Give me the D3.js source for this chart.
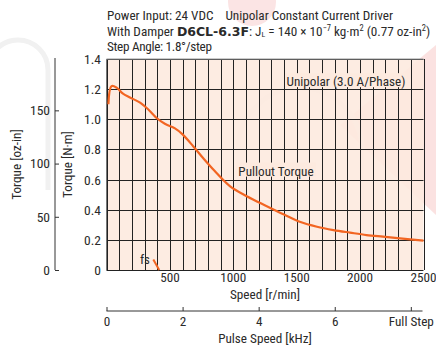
<!DOCTYPE html>
<html><head><meta charset="utf-8">
<script src="https://cdn.jsdelivr.net/npm/d3@7"></script>
<style>
body{margin:0;background:#fff;}
svg text{font-family:"Liberation Sans Narrow","Roboto Condensed","Liberation Sans",Arial,sans-serif;fill:#2a2a2a;}
</style></head><body>
<svg id="c" width="436" height="345"></svg>
<script>
// ---- data ----
const speedRpm = [15, 40, 80, 130, 185, 265, 330, 400, 460, 540, 600, 685, 765, 850, 975, 1110, 1260, 1400, 1530, 1660, 1790, 1920, 2050, 2180, 2315, 2500];
const pulloutTorque = [1.10, 1.22, 1.21, 1.17, 1.145, 1.11, 1.065, 1.005, 0.97, 0.94, 0.90, 0.82, 0.74, 0.66, 0.555, 0.488, 0.425, 0.368, 0.318, 0.287, 0.265, 0.248, 0.232, 0.221, 0.21, 0.195];
const fsSpeed = [369, 416];
const fsTorque = [0.07, 0.0];
const speedTicks = [500, 1000, 1500, 2000, 2500];
const torqueTicks = [0, 0.2, 0.4, 0.6, 0.8, 1.0, 1.2, 1.4];
const ozTicks = [0, 50, 100, 150];
const pulseTicks = [0, 2, 4, 6, 8];
const pulseLabels = ["0", "2", "4", "6", "Full Step"];
const titleLine1 = "Power Input: 24 VDC    Unipolar Constant Current Driver";
const titleLine3 = "Step Angle: 1.8°/step";

const FS = 13.2;
const svg = d3.select("#c");
const x = d3.scaleLinear().domain([0, 2500]).range([106.5, 423.5]);
const y = d3.scaleLinear().domain([0, 1.4]).range([270, 59]);
const oz = d3.scaleLinear().domain([0, 1.4 * 141.612]).range([270, 59]);
const kHz = d3.scaleLinear().domain([0, 2500 * 200 / 60 / 1000]).range([106.5, 423.5]);

// watermark
const wm = svg.append("g");
wm.append("circle").attr("cx", 252).attr("cy", 2).attr("r", 24).attr("fill", "#fbe4e4");
wm.append("path").attr("d", "M340,125 L436,45 L436,215 Z").attr("fill", "#fbe2e1");
const arcs = [[18, 70, 30], [300, 150, 62]];
arcs.forEach(([cx, cy, r]) => {
  wm.append("path").attr("d", `M${cx - r},${cy + 120} L${cx - r},${cy} A${r},${r} 0 0 1 ${cx + r},${cy} L${cx + r},${cy + 120}`)
    .attr("fill", "none").attr("stroke", "#f1f1f1").attr("stroke-width", 5);
});

// plot background
svg.append("rect").attr("x", x(0)).attr("y", y(1.4)).attr("width", x(2500) - x(0)).attr("height", y(0) - y(1.4))
  .attr("fill", "#fdeadf").attr("fill-opacity", 0.9);

// grid
const g = svg.append("g").attr("stroke", "#222").attr("stroke-width", 1);
d3.range(0, 2501, 100).forEach(v => {
  g.append("line").attr("x1", Math.round(x(v)) + 0.5).attr("x2", Math.round(x(v)) + 0.5).attr("y1", y(1.4)).attr("y2", y(0));
});
torqueTicks.forEach(v => {
  g.append("line").attr("x1", x(0)).attr("x2", x(2500)).attr("y1", Math.round(y(v)) + 0.5).attr("y2", Math.round(y(v)) + 0.5);
});
svg.append("line").attr("x1", x(0)).attr("x2", x(0)).attr("y1", y(1.4)).attr("y2", y(0)).attr("stroke", "#777").attr("stroke-width", 1);
svg.append("line").attr("x1", x(0)).attr("x2", x(2500)).attr("y1", y(1.4)).attr("y2", y(1.4)).attr("stroke", "#999").attr("stroke-width", 1);

// label boxes
function label(txt, cx, base, w) {
  svg.append("rect").attr("x", cx - w / 2).attr("y", base - 13).attr("width", w).attr("height", 14).attr("fill", "#fdeadf");
  svg.append("text").attr("x", cx).attr("y", base).attr("text-anchor", "middle").attr("font-size", FS).text(txt);
}
label("Unipolar (3.0 A/Phase)", 346, y(1.2) - 3, 122);
label("Pullout Torque", 276, y(0.6) - 4, 80);

// curves
const line = d3.line().x(d => x(d[0])).y(d => y(d[1])).curve(d3.curveCatmullRom.alpha(0.5));
svg.append("path").datum(speedRpm.map((s, i) => [s, pulloutTorque[i]])).attr("d", line)
  .attr("fill", "none").attr("stroke", "#f26522").attr("stroke-width", 2.2);
svg.append("path").datum(fsSpeed.map((s, i) => [s, fsTorque[i]])).attr("d", d3.line().x(d => x(d[0])).y(d => y(d[1])))
  .attr("fill", "none").attr("stroke", "#f26522").attr("stroke-width", 2);
const fsT = svg.append("text").attr("x", 140).attr("y", 264).attr("font-size", FS);
fsT.append("tspan").text("f");
fsT.append("tspan").attr("font-size", 12).text("s");

// N·m axis labels
svg.append("g").selectAll("text").data(torqueTicks).join("text")
  .attr("x", 101).attr("y", d => y(d) + 5).attr("text-anchor", "end").attr("font-size", 13.5)
  .text(d => d3.format(".1f")(d).replace(/^0\.0$/, "0"));

// speed axis labels
svg.append("g").selectAll("text").data(speedTicks).join("text")
  .attr("x", d => x(d)).attr("y", 282).attr("text-anchor", "middle").attr("font-size", FS).text(d => d);
svg.append("text").attr("x", x(1250)).attr("y", 299).attr("text-anchor", "middle").attr("font-size", FS).text("Speed [r/min]");

// oz-in axis
const ozAxis = d3.axisRight(oz).tickValues(ozTicks).tickSize(4).tickFormat(d3.format("d"));
const oa = svg.append("g").attr("transform", "translate(55,0)").call(ozAxis);
oa.select(".domain").attr("d", `M0,${oz(0)}V${y(1.4) - 1}`).attr("stroke", "#333");
oa.selectAll(".tick line").attr("stroke", "#333");
oa.selectAll(".tick text").attr("x", -5).attr("text-anchor", "end").attr("font-size", 13.5).attr("fill", "#2a2a2a")
  .attr("font-family", null);

// pulse axis
const pAxis = d3.axisTop(kHz).tickValues(pulseTicks).tickSize(4).tickFormat((d, i) => pulseLabels[i]);
const pa = svg.append("g").attr("transform", "translate(0,311)").call(pAxis);
pa.select(".domain").attr("d", `M${kHz(0)},0H${x(2500) - 1}`).attr("stroke", "#333");
pa.selectAll(".tick line").attr("stroke", "#333");
pa.selectAll(".tick text").attr("y", 15).attr("dy", 0).attr("font-size", FS).attr("fill", "#2a2a2a").attr("font-family", null);
svg.append("text").attr("x", x(1250)).attr("y", 343).attr("text-anchor", "middle").attr("font-size", FS).text("Pulse Speed [kHz]");

// axis titles
svg.append("text").attr("transform", `translate(72,${y(0.7)}) rotate(-90)`).attr("text-anchor", "middle").attr("font-size", FS).text("Torque [N·m]");
svg.append("text").attr("transform", `translate(21,${y(0.7)}) rotate(-90)`).attr("text-anchor", "middle").attr("font-size", FS).text("Torque [oz-in]");

// title
svg.append("text").attr("x", 107).attr("y", 20).attr("font-size", FS).attr("xml:space", "preserve")
  .attr("textLength", 286).attr("lengthAdjust", "spacing").text(titleLine1);
const t2 = svg.append("text").attr("x", 107).attr("y", 36).attr("font-size", FS);
t2.append("tspan").text("With Damper ");
t2.append("tspan").attr("font-weight", "900").attr("font-family", "DejaVu Sans, Liberation Sans, sans-serif").attr("font-size", 12.5).text("D6CL-6.3F");
t2.append("tspan").text(": J");
t2.append("tspan").attr("font-size", 8).attr("dy", 1).text("L");
t2.append("tspan").attr("dy", -1).text(" = 140 × 10");
t2.append("tspan").attr("font-size", 8.5).attr("dy", -5).text("−7");
t2.append("tspan").attr("dy", 5).text(" kg·m");
t2.append("tspan").attr("font-size", 8.5).attr("dy", -5).text("2");
t2.append("tspan").attr("dy", 5).text(" (0.77 oz-in");
t2.append("tspan").attr("font-size", 8.5).attr("dy", -5).text("2");
t2.append("tspan").attr("dy", 5).text(")");
svg.append("text").attr("x", 107).attr("y", 51).attr("font-size", FS)
  .attr("textLength", 105).attr("lengthAdjust", "spacing").text(titleLine3);
</script></body></html>
